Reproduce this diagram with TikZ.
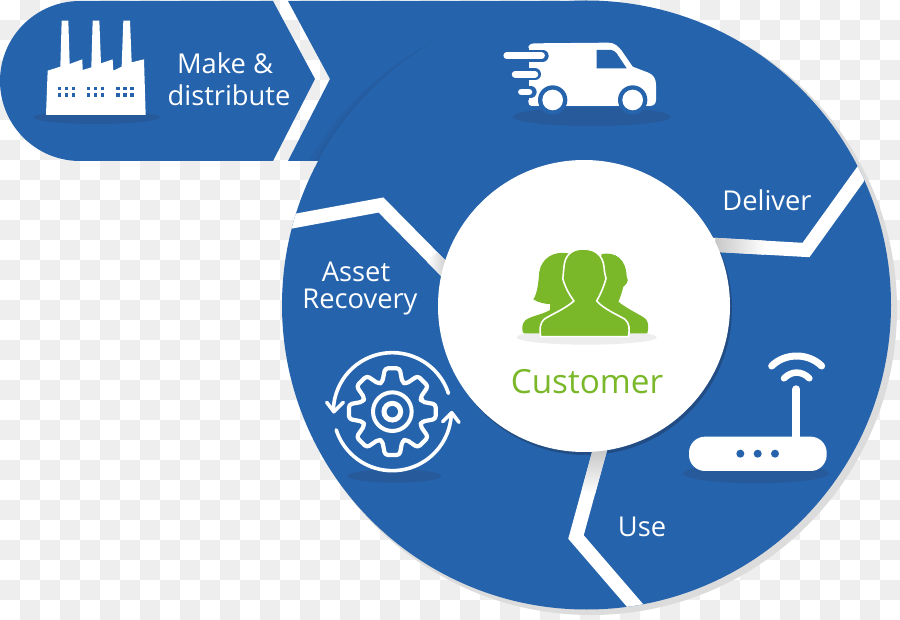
\documentclass[tikz,border=0pt]{standalone}
\usepackage{fontspec}
\setmainfont{Open Sans}
\definecolor{blueA}{RGB}{37,99,172}
\definecolor{blueD}{RGB}{39,90,155}
\definecolor{greenA}{RGB}{122,184,41}
\definecolor{rimC}{RGB}{220,220,220}
\definecolor{checkC}{RGB}{238,238,238}
\tikzset{
  label text/.style={text=white,font=\fontsize{27.3}{30}\selectfont,inner sep=0pt,anchor=base},
  stripe/.style={draw=white,line width=14pt,miter limit=10},
  iconline/.style={draw=white,line cap=round,line join=round},
}
\begin{document}
\begin{tikzpicture}[x=1pt,y=-1pt]
\useasboundingbox (0,0) rectangle (900,620);
% checker background
\fill[white] (0,0) rectangle (900,620);
\foreach \c in {0,...,44}{\foreach \r in {0,...,30}{
  \pgfmathtruncatemacro{\odd}{mod(\c+\r,2)}
  \ifnum\odd=1 \fill[checkC] ({\c*20},{\r*20}) rectangle ({\c*20+20},{\r*20+20});\fi
}}
% rim
\fill[rimC] (591,309) circle[radius=306];
% band
\fill[blueA] (80,1) -- (273,1) -- (315,79) -- (273,161) -- (80,161)
  .. controls (35.8,161) and (0,125.2) .. (0,81) .. controls (0,36.8) and (35.8,1) .. (80,1) -- cycle;
\fill[blueA] (288,1) -- (586,1) -- (586,161) -- (288,161) -- (330,79) -- cycle;
\begin{scope}
  \clip (288,1) -- (586,1) -- (586,161) -- (288,161) -- (330,79) -- cycle;
  \fill[blueD,opacity=.3] (582.1,307.4) circle[radius=304.5];
  \fill[blueD,opacity=.3] (577.7,309.7) circle[radius=304.5];
  \fill[blueD,opacity=.3] (572.5,312.5) circle[radius=304.5];
\end{scope}
% main disc
\fill[blueA] (586.5,305) circle[radius=304.5];
\fill[blueD!85!black] (586,309) circle[radius=146];
% stripes
\begin{scope}
  \clip (586.5,305) circle[radius=304.5];
  \draw[stripe] (700,244) -- (806,250) -- (870,161);
  \draw[stripe] (604,435) -- (576,537) -- (645,617);
  \draw[stripe] (278,224) -- (381,205) -- (452,277);
\end{scope}
\shade[left color=black!22,right color=white] (715.4,237.9) -- (765.4,240.7) -- (764.6,254.7) -- (714.6,251.9) -- cycle;
\shade[top color=black!24,bottom color=white] (607.1,449.9) -- (595.1,493.9) -- (581.7,490.1) -- (593.7,446.1) -- cycle;
\shade[left color=white,right color=black!25] (437,252) -- (452,267) -- (442,277) -- (427,262) -- cycle;
% centre disc
\fill[white] (584,306) circle[radius=146];
% factory
\begin{scope}[scale=1/3]
  \fill[blueD] (290,352) ellipse[x radius=190,y radius=20];
  \fill[white] (138,345) -- (143,212) -- (181,200) -- (185,62) -- (205,62) -- (209,192) -- (247,178) -- (248,210)
    -- (274,202) -- (278,62) -- (298,62) -- (303,190) -- (338,178) -- (340,212) -- (365,200) -- (370,62) -- (390,62)
    -- (395,187) -- (432,178) -- (437,345) -- cycle;
  \foreach \x in {173,261,349}{\foreach \dx in {0,21,42}{\foreach \y in {260,280}{
    \fill[blueA] (\x+\dx,\y) rectangle (\x+\dx+10,\y+10);
  }}}
\end{scope}
% van
\begin{scope}[shift={(480,20)},scale=1/3]
  \fill[blueD] (335,290) ellipse[x radius=237,y radius=28];
  \fill[white] (165,70) -- (385,68) .. controls (405,68) and (415,80) .. (425,92) -- (458,140) -- (505,158)
    .. controls (522,165) and (528,178) .. (528,195) -- (528,240) .. controls (528,252) and (520,258) .. (508,258)
    -- (155,258) .. controls (148,258) and (145,252) .. (145,245) -- (145,85) .. controls (145,75) and (152,70) .. (165,70) -- cycle;
  \draw[blueA,line width=12pt,line cap=round] (60,107) -- (188,107);
  \draw[blueA,line width=12pt,line cap=round] (60,163) -- (165,163);
  \draw[blueA,line width=12pt,line cap=round] (60,216) -- (152,216);
  \fill[blueA] (0,85) rectangle (147,240);
  \draw[white,line width=6.5pt,line cap=round] (80,107) -- (185,107);
  \draw[white,line width=6.5pt,line cap=round] (105,163) -- (165,163);
  \draw[white,line width=6.5pt,line cap=round] (124,216) -- (147,216);
  \fill[blueA] (350,90) -- (395,90) .. controls (402,92) and (405,95) .. (410,100) -- (440,145) -- (350,145) -- cycle;
  \fill[blueA] (218,240) circle[radius=44];
  \fill[blueA] (458,240) circle[radius=44];
  \fill[white] (218,240) circle[radius=31];
  \fill[white] (458,240) circle[radius=31];
\end{scope}
% people
\begin{scope}[shift={(500,230)},scale=1/3]
  \fill[black!7] (260,322) ellipse[x radius=210,y radius=22];
  \fill[greenA] (205,70) .. controls (160,62) and (125,85) .. (118,125) .. controls (115,160) and (112,190) .. (100,208)
    .. controls (115,218) and (135,222) .. (150,222) -- (150,240) .. controls (125,255) and (90,258) .. (75,272)
    .. controls (66,282) and (66,295) .. (68,305) -- (72,310) -- (130,310) -- (250,200) -- cycle;
  \fill[greenA] (305,72) .. controls (345,65) and (378,85) .. (380,140) .. controls (390,155) and (375,165) .. (370,170)
    .. controls (365,190) and (360,205) .. (355,215) .. controls (385,240) and (425,255) .. (438,268)
    .. controls (446,278) and (446,295) .. (442,310) -- (380,310) -- (280,200) -- cycle;
  \fill[greenA,draw=white,line width=1.6pt,line join=round] (250,57) .. controls (215,57) and (195,75) .. (192,110)
    .. controls (190,125) and (190,140) .. (188,145) .. controls (195,170) and (205,190) .. (222,213)
    .. controls (190,240) and (150,255) .. (132,268) .. controls (120,280) and (118,295) .. (122,320)
    -- (385,320) .. controls (390,295) and (388,280) .. (375,268)
    .. controls (355,255) and (315,240) .. (290,213) .. controls (300,195) and (312,170) .. (318,145)
    .. controls (315,135) and (313,125) .. (312,110) .. controls (308,75) and (285,57) .. (250,57) -- cycle;
\end{scope}
% gear
\begin{scope}[shift={(310,340)},scale=1/3]
  \fill[blueD] (253,408) ellipse[x radius=140,y radius=20];
  \draw[iconline,line width=4.2pt,rounded corners=3pt] ({247+88*cos(0)+30*sin(0)},{215+88*sin(0)-30*cos(0)})
    \foreach \a in {0,45,...,315}{
      -- ({247+88*cos(\a)+30*sin(\a)},{215+88*sin(\a)-30*cos(\a)})
      -- ({247+130*cos(\a)+22*sin(\a)},{215+130*sin(\a)-22*cos(\a)})
      -- ({247+130*cos(\a)-22*sin(\a)},{215+130*sin(\a)+22*cos(\a)})
      -- ({247+88*cos(\a)-30*sin(\a)},{215+88*sin(\a)+30*cos(\a)})
    } -- cycle;
  \draw[white,line width=4pt] (247,215) circle[radius=58];
  \draw[white,line width=5pt] (247,215) circle[radius=25];
  \draw[iconline,line width=3.6pt] plot[domain=18:180,samples=60] ({247+177*cos(\x)},{215-177*sin(\x)});
  \draw[iconline,line width=3.6pt] plot[domain=198:357,samples=60] ({247+177*cos(\x)},{215-177*sin(\x)});
  \draw[iconline,line width=3.6pt] (50,187) -- (72,215) -- (100,187);
  \draw[iconline,line width=3.6pt] (398,245) -- (425,218) -- (447,247);
\end{scope}
% router
\begin{scope}[shift={(670,340)},scale=1/3]
  \fill[blueD] (258,400) ellipse[x radius=218,y radius=30];
  \fill[white,rounded corners=16pt] (57,290) rectangle (470,393);
  \foreach \x in {211,263,315}{\fill[blueA] (\x,341) circle[radius=12];}
  \draw[iconline,line width=8pt] (379,148) -- (379,295);
  \draw[iconline,line width=6.5pt] (342,115) .. controls (365,92) and (395,92) .. (418,115);
  \draw[iconline,line width=7pt] (305,78) .. controls (345,38) and (415,38) .. (455,78);
\end{scope}
% labels
\node[label text] (make) at (225,73.5) {Make \&};
\node[label text] (dist) at (229,105.5) {distribute};
\node[label text] (deliver) at (767,210.5) {Deliver};
\node[label text] (asset) at (356,281.5) {Asset};
\node[label text] (recovery) at (360,309) {Recovery};
\node[label text] (use) at (642,536) {Use};
\node[label text,text=greenA,font=\fontsize{33.3}{36}\selectfont] (customer) at (587,393) {Customer};
\end{tikzpicture}
\end{document}
